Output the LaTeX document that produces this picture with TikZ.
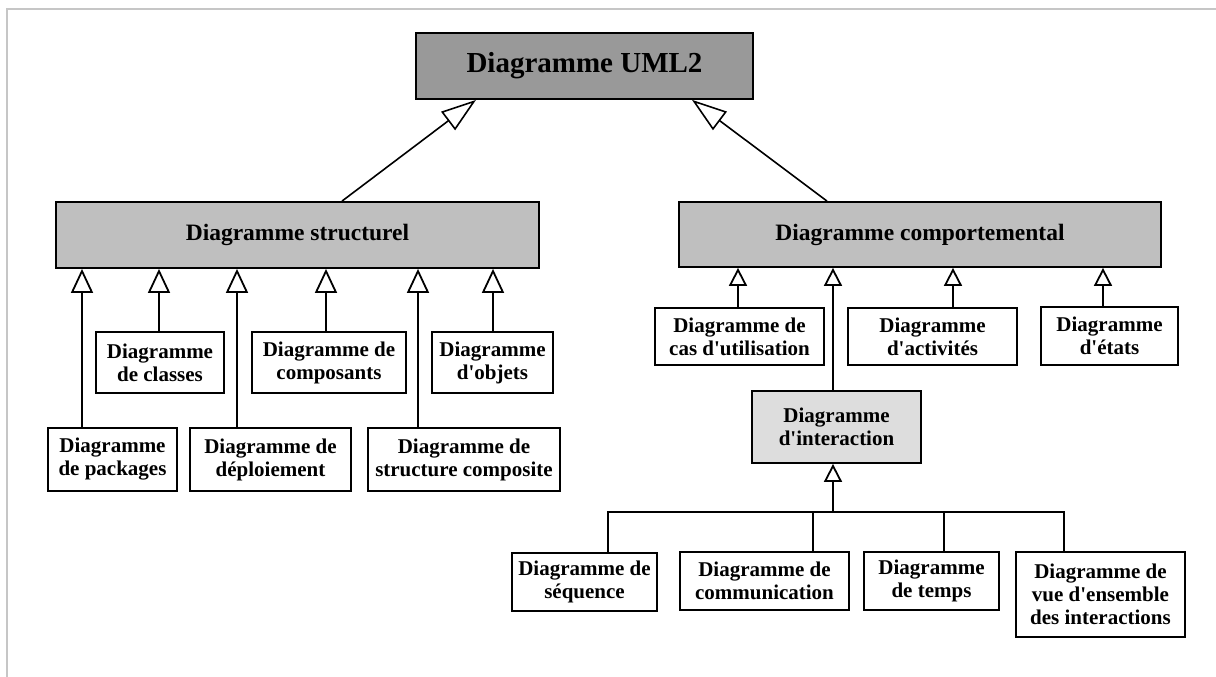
\documentclass[tikz,border=0pt]{standalone}
\usepackage{fontspec}
\setmainfont{Liberation Serif}
\usetikzlibrary{arrows.meta}
\newcommand{\ap}{\textquotesingle}

\begin{document}
\begin{tikzpicture}[x=1pt,y=-1pt,
    box/.style={draw,line width=1.8pt,fill=white,align=center,inner sep=0pt,
        font=\bfseries\fontsize{21}{23}\selectfont},
    headbox/.style={box,fill=gray!50,font=\bfseries\fontsize{23.5}{26}\selectfont},
    umlbox/.style={box,fill=gray!80,font=\bfseries\fontsize{29}{34}\selectfont},
    interbox/.style={box,fill=gray!27},
    genbig/.style={line width=1.6pt,-{Triangle[open,length=35pt,width=23pt]}},
    genmid/.style={line width=1.8pt,-{Triangle[open,length=24pt,width=22pt]}},
    gensmall/.style={line width=1.8pt,-{Triangle[open,length=18pt,width=18pt]}},
    bus/.style={line width=1.8pt}
]
    \useasboundingbox (0,0) rectangle (1216,677);
    \draw[gray!45,line width=1.5pt] (7,677) -- (7,9) -- (1216,9);

    % root and the two families
    \node[umlbox,minimum width=337pt,minimum height=66pt] (uml) at (584.5,66) {Diagramme UML2};
    \node[headbox,minimum width=483pt,minimum height=66pt] (struct) at (297.5,235) {Diagramme structurel};
    \node[headbox,minimum width=482pt,minimum height=65pt] (comport) at (920,234.5) {Diagramme comportemental};

    \draw[genbig] (342,0 |- struct.north) -- (476,0 |- uml.south);
    \draw[genbig] (827,0 |- comport.north) -- (692,0 |- uml.south);

    % structural diagrams
    \node[box,minimum width=128pt,minimum height=61pt] (classes) at (160,362.5) {Diagramme\\de classes};
    \node[box,minimum width=154pt,minimum height=61pt] (composants) at (329,362.5) {Diagramme de\\composants};
    \node[box,minimum width=121pt,minimum height=61pt] (objets) at (492.5,362.5) {Diagramme\\d\ap objets};
    \node[box,minimum width=129pt,minimum height=63pt] (packages) at (112.5,459.5) {Diagramme\\de packages};
    \node[box,minimum width=161pt,minimum height=63pt] (deploiement) at (270.5,459.5) {Diagramme de\\déploiement};
    \node[box,minimum width=192pt,minimum height=63pt] (composite) at (464,459.5) {Diagramme de\\structure composite};

    \draw[genmid] (82,0 |- packages.north) -- (82,0 |- struct.south);
    \draw[genmid] (159,0 |- classes.north) -- (159,0 |- struct.south);
    \draw[genmid] (237,0 |- deploiement.north) -- (237,0 |- struct.south);
    \draw[genmid] (326,0 |- composants.north) -- (326,0 |- struct.south);
    \draw[genmid] (418,0 |- composite.north) -- (418,0 |- struct.south);
    \draw[genmid] (493,0 |- objets.north) -- (493,0 |- struct.south);

    % behavioural diagrams
    \node[box,minimum width=169pt,minimum height=57pt] (cas) at (739.5,336.5) {Diagramme de\\cas d\ap utilisation};
    \node[box,minimum width=169pt,minimum height=57pt] (activites) at (932.5,336.5) {Diagramme\\d\ap activités};
    \node[box,minimum width=137pt,minimum height=58pt] (etats) at (1109.5,336) {Diagramme\\d\ap états};
    \node[interbox,minimum width=169pt,minimum height=72pt] (interaction) at (836.5,427) {Diagramme\\d\ap interaction};

    \draw[gensmall] (738,0 |- cas.north) -- (738,0 |- comport.south);
    \draw[gensmall] (833,0 |- interaction.north) -- (833,0 |- comport.south);
    \draw[gensmall] (953,0 |- activites.north) -- (953,0 |- comport.south);
    \draw[gensmall] (1103,0 |- etats.north) -- (1103,0 |- comport.south);

    % interaction diagrams
    \node[box,minimum width=145pt,minimum height=58pt] (sequence) at (584.5,582) {Diagramme de\\séquence};
    \node[box,minimum width=169pt,minimum height=58pt] (communication) at (764.5,581) {Diagramme de\\communication};
    \node[box,minimum width=135pt,minimum height=58pt] (temps) at (931.5,581) {Diagramme\\de temps};
    \node[box,minimum width=169pt,minimum height=85pt] (vue) at (1100.5,594.5) {Diagramme de\\vue d\ap ensemble\\des interactions};

    \coordinate (fork) at (833,512);
    \draw[gensmall] (fork) -- (833,0 |- interaction.south);
    \draw[bus] (608,0 |- sequence.north) -- (608,0 |- fork) -- (1064,0 |- fork) -- (1064,0 |- vue.north);
    \draw[bus] (813,0 |- communication.north) -- (813,0 |- fork);
    \draw[bus] (944,0 |- temps.north) -- (944,0 |- fork);
\end{tikzpicture}
\end{document}
